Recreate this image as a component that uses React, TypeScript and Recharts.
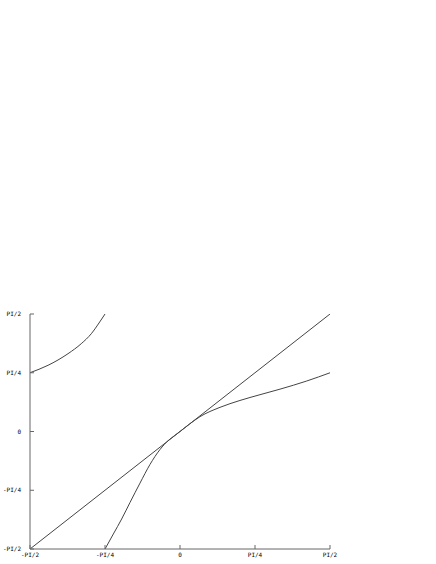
import React from "react";
import { LineChart, Line, XAxis, YAxis } from "recharts";

const HALF_PI = Math.PI / 2;

// tick positions and their labels (same on both axes)
const tickValues = [-HALF_PI, -HALF_PI / 2, 0, HALF_PI / 2, HALF_PI];
const tickLabels = ["-PI/2", "-PI/4", "0", "PI/4", "PI/2"];

// straight diagonal
const diagX = [-HALF_PI, HALF_PI];
const diagY = [-HALF_PI, HALF_PI];

// main curve
const curveX = [-0.785, -0.698, -0.611, -0.524, -0.419, -0.314, -0.209, -0.122, -0.06, 0, 0.1, 0.209, 0.419, 0.628, 0.838, 1.047, 1.327, 1.571];
const curveY = [-1.571, -1.37, -1.17, -0.95, -0.69, -0.44, -0.24, -0.12, -0.058, 0, 0.1, 0.198, 0.323, 0.415, 0.492, 0.566, 0.675, 0.785];

// the piece in the top-left corner
const cornerX = [-1.571, -1.382, -1.173, -1.034, -0.929, -0.841, -0.785];
const cornerY = [0.786, 0.885, 1.04, 1.174, 1.307, 1.464, 1.571];

const zip = (xs: number[], ys: number[]) => xs.map((x, i) => ({ x, y: ys[i] }));

const diag = zip(diagX, diagY);
const curve = zip(curveX, curveY);
const corner = zip(cornerX, cornerY);

const AXIS = "#666";
const INK = "#444";
const FONT = { fontFamily: "DejaVu Sans Mono", fontSize: 6, fill: "#000" };

const labelFor = (v: number) => {
  let best = 0;
  tickValues.forEach((t, i) => {
    if (Math.abs(t - v) < Math.abs(tickValues[best] - v)) best = i;
  });
  return tickLabels[best];
};

const BottomTick = (p: any) => (
  <g>
    <line x1={p.x} y1={p.y} x2={p.x} y2={p.y - 4} stroke={AXIS} />
    <text x={p.x} y={p.y + 8} textAnchor="middle" fill="#000" style={FONT}>
      {labelFor(p.payload.value)}
    </text>
  </g>
);

const TopTick = (p: any) => <line x1={p.x} y1={p.y} x2={p.x} y2={p.y + 4} stroke={AXIS} />;

const LeftTick = (p: any) => (
  <g>
    <line x1={p.x} y1={p.y} x2={p.x + 4} y2={p.y} stroke={AXIS} />
    <text x={p.x - 9} y={p.y + 2} textAnchor="end" fill="#000" style={FONT}>
      {labelFor(p.payload.value)}
    </text>
  </g>
);

const RightTick = (p: any) => <line x1={p.x} y1={p.y} x2={p.x - 4} y2={p.y} stroke={AXIS} />;

export default function App() {
  const domain: [number, number] = [-HALF_PI, HALF_PI];
  return (
    <div style={{ position: "absolute", left: 0, top: 0 }}>
      <LineChart width={436} height={564} margin={{ top: 314, right: 106, bottom: 0, left: 0 }}>
        <XAxis
          dataKey="x"
          type="number"
          domain={domain}
          ticks={tickValues}
          allowDataOverflow
          height={15}
          tickSize={0}
          tickMargin={0}
          tickLine={false}
          axisLine={{ stroke: AXIS }}
          tick={<BottomTick />}
          interval={0}
        />
        <XAxis
          xAxisId="top"
          orientation="top"
          dataKey="x"
          type="number"
          domain={domain}
          ticks={tickValues}
          allowDataOverflow
          height={0}
          tickSize={0}
          tickMargin={0}
          tickLine={false}
          axisLine={{ stroke: AXIS }}
          tick={<TopTick />}
          interval={0}
        />
        <YAxis
          type="number"
          domain={domain}
          ticks={tickValues}
          allowDataOverflow
          width={30}
          tickSize={0}
          tickMargin={0}
          tickLine={false}
          axisLine={{ stroke: AXIS }}
          tick={<LeftTick />}
          interval={0}
        />
        <YAxis
          yAxisId="right"
          orientation="right"
          type="number"
          domain={domain}
          ticks={tickValues}
          allowDataOverflow
          width={0}
          tickSize={0}
          tickMargin={0}
          tickLine={false}
          axisLine={{ stroke: AXIS }}
          tick={<RightTick />}
          interval={0}
        />
        <Line data={diag} dataKey="y" type="linear" stroke={INK} strokeWidth={1} dot={false} isAnimationActive={false} />
        <Line data={curve} dataKey="y" type="monotone" stroke={INK} strokeWidth={1} dot={false} isAnimationActive={false} />
        <Line data={corner} dataKey="y" type="monotone" stroke={INK} strokeWidth={1} dot={false} isAnimationActive={false} />
      </LineChart>
    </div>
  );
}
